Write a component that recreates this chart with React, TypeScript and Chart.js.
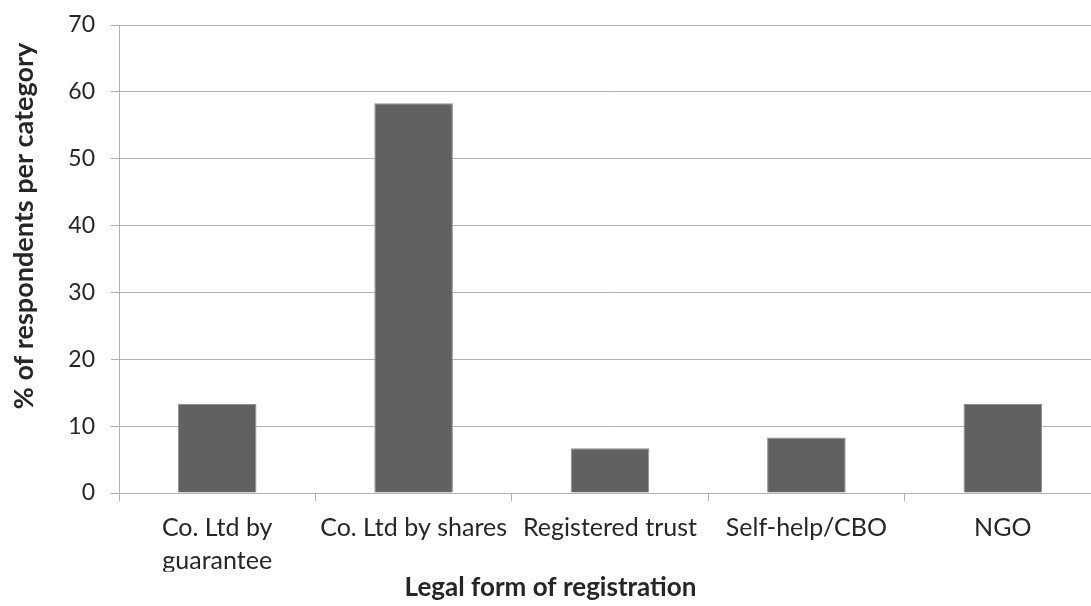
import React, { useEffect, useRef } from "react";
import { Chart, registerables } from "chart.js";

Chart.register(...registerables);

const categories: (string | string[])[] = [
  ["Co. Ltd by", "guarantee"],
  "Co. Ltd by shares",
  "Registered trust",
  "Self-help/CBO",
  "NGO",
];
const respondentShare = [13.3, 58.3, 6.7, 8.3, 13.3];
const yTicks = [0, 10, 20, 30, 40, 50, 60, 70];
const yAxisTitle = "% of respondents per category";
const xAxisTitle = "Legal form of registration";

const FONT = "Lato, 'Open Sans', sans-serif";
const TEXT = "#262626";
const GRID = "#b0b0b0";

// Vertical axis title, centred a little above the plot's middle like the
// spreadsheet original.
const yTitlePlugin = {
  id: "yTitle",
  afterDraw(chart: any) {
    const ctx = chart.ctx as CanvasRenderingContext2D;
    ctx.save();
    ctx.translate(24, 226);
    ctx.rotate(-Math.PI / 2);
    ctx.font = `bold 27px ${FONT}`;
    ctx.fillStyle = TEXT;
    ctx.textAlign = "center";
    ctx.textBaseline = "middle";
    ctx.fillText(yAxisTitle, 0, 0);
    ctx.restore();
  },
};

export default function App() {
  const canvasRef = useRef<HTMLCanvasElement | null>(null);

  useEffect(() => {
    const canvas = canvasRef.current;
    if (!canvas) return;
    const chart = new Chart(canvas, {
      type: "bar",
      data: {
        labels: categories,
        datasets: [
          {
            data: respondentShare,
            backgroundColor: "#616161",
            borderColor: "#8f8f8f",
            borderWidth: 1,
            categoryPercentage: 0.4,
            barPercentage: 1,
          },
        ],
      },
      plugins: [yTitlePlugin],
      options: {
        animation: false,
        responsive: false,
        devicePixelRatio: 1,
        layout: { padding: { top: 25, right: 9, left: 0, bottom: 0 } },
        plugins: {
          legend: { display: false },
          tooltip: { enabled: false },
          title: {
            display: true,
            position: "bottom",
            text: xAxisTitle,
            color: TEXT,
            font: { family: FONT, size: 26, weight: "bold", lineHeight: 1.2 },
            padding: { top: 0, bottom: 3 },
          },
        },
        scales: {
          x: {
            grid: {
              display: true,
              drawOnChartArea: false,
              drawTicks: true,
              tickLength: 8,
              color: GRID,
              offset: true,
            },
            border: { display: true, color: GRID, width: 1 },
            ticks: {
              color: TEXT,
              font: { family: FONT, size: 25, lineHeight: 1.3 },
              padding: 11,
              maxRotation: 0,
              autoSkip: false,
            },
            afterFit: (scale: any) => {
              scale.height = 606 - 26 * 1.2 - 3 - 493;
              scale.paddingLeft = 0;
              scale.paddingRight = 0;
            },
          },
          y: {
            min: 0,
            max: 70,
            afterBuildTicks: (scale: any) => {
              scale.ticks = yTicks.map((v) => ({ value: v }));
            },
            grid: {
              color: GRID,
              drawTicks: true,
              tickLength: 8,
            },
            border: { display: true, color: GRID, width: 1 },
            ticks: {
              color: TEXT,
              font: { family: FONT, size: 23 },
              padding: 16,
            },
            afterFit: (scale: any) => {
              scale.width = 119;
              scale.paddingTop = 0;
              scale.paddingBottom = 0;
            },
          },
        },
      },
    });
    return () => chart.destroy();
  }, []);

  return (
    <div
      style={{
        position: "fixed",
        left: 0,
        top: 0,
        width: 1091,
        height: 606,
        overflow: "hidden",
        background: "#ffffff",
      }}
    >
      <canvas ref={canvasRef} width={1110} height={606} style={{ display: "block" }} />
    </div>
  );
}
